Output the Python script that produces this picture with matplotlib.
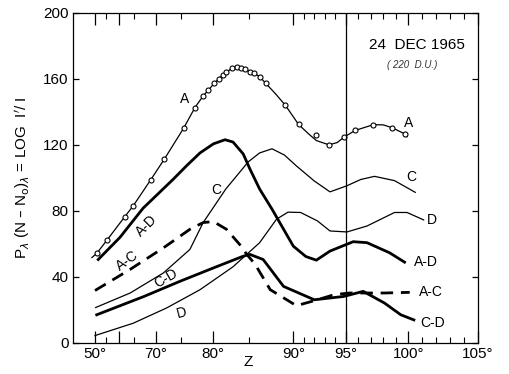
import numpy as np
import matplotlib
matplotlib.use("Agg")
import matplotlib.pyplot as plt
from matplotlib.ticker import FixedLocator, FixedFormatter

plt.rcParams['font.family'] = ['Liberation Sans', 'DejaVu Sans']

# ---------------- data (Z in degrees, value in log units) ----------------
A_line_z = [48.6, 50.8, 55.5, 61.8, 64.5, 68.8, 71.7, 75.4, 77.2, 78.5, 79.3, 80.2, 80.8, 81.4,
            81.9, 82.6, 83.3, 83.9, 84.5, 85.1, 85.6, 86.2, 86.9, 88.0, 89.1, 90.5, 91.5, 92.2,
            93.4, 94.2, 94.8, 95.75, 97.2, 98.0, 98.7, 99.7, 99.9]
A_line_v = [51.8, 54.3, 62.4, 76.4, 82.9, 99.0, 111.6, 130.1, 142.7, 149.8, 153.2, 157.3, 159.9, 162.4,
            164.0, 166.5, 167.5, 166.9, 166.0, 164.5, 163.4, 161.4, 157.3, 151.0, 144.1, 132.5, 126.5, 122.7,
            120.1, 121.5, 124.6, 128.8, 132.3, 132.2, 130.5, 126.8, 125.0]
A_mark_z = [50.8, 55.5, 61.8, 64.5, 68.8, 71.7, 75.4, 77.2, 78.5, 79.3, 80.2, 80.8, 81.4, 81.9,
            82.6, 83.3, 83.9, 84.5, 85.1, 85.6, 86.2, 86.9, 89.1, 90.5, 92.2, 93.4, 94.8, 95.75,
            97.2, 98.7, 99.7]
A_mark_v = [54.3, 62.4, 76.4, 82.9, 99.0, 111.6, 130.1, 142.7, 149.8, 153.2, 157.3, 159.9, 162.4, 164.0,
            166.5, 167.5, 166.9, 166.0, 164.5, 163.4, 161.4, 157.3, 144.1, 132.5, 125.8, 120.1, 124.6, 128.8,
            132.3, 130.5, 126.8]

C_z = [50.3, 63.6, 71.5, 76.4, 78.5, 81.8, 84.9, 86.2, 87.6, 89.0, 90.3, 92.0, 93.5, 95.1,
       96.2, 97.3, 98.9, 100.5]
C_v = [21.5, 30.3, 42.5, 56.7, 73.0, 93.3, 109.8, 115.2, 117.7, 113.9, 107.3, 98.2, 91.6, 95.3,
       99.1, 101.0, 98.4, 91.3]

D_z = [50.0, 64.6, 72.1, 78.0, 82.8, 86.2, 88.1, 89.4, 90.7, 92.3, 93.5, 95.1, 96.7, 98.9,
       99.9, 101.1]
D_v = [4.5, 12.0, 21.2, 32.3, 46.2, 60.8, 75.0, 79.3, 79.1, 74.0, 67.9, 67.3, 70.9, 79.1,
       79.1, 74.6]

AD_z = [51.5, 60.3, 67.0, 73.5, 75.9, 78.0, 80.1, 81.7, 82.8, 84.2, 85.1, 86.2, 87.6, 90.0,
        91.2, 92.2, 93.5, 95.6, 96.7, 98.5, 99.7]
AD_v = [50.6, 64.0, 81.7, 99.4, 107.5, 115.2, 120.7, 123.2, 121.8, 114.6, 105.5, 93.3, 81.1, 58.7,
        52.4, 50.2, 55.7, 61.4, 60.8, 54.7, 49.0]

AC_z = [50.0, 63.5, 71.5, 76.4, 78.5, 80.1, 81.9, 83.7, 84.7, 85.7, 87.4, 90.3, 92.3, 93.9,
        95.3, 98.1, 100.1]
AC_v = [31.8, 44.5, 57.7, 68.9, 73.0, 73.6, 68.9, 59.8, 53.7, 47.6, 32.3, 22.6, 26.2, 29.3,
        30.3, 30.3, 30.7]

CD_z = [50.8, 67.2, 74.8, 80.1, 84.2, 85.1, 86.6, 88.9, 92.0, 94.8, 96.4, 98.1, 99.4, 100.4]
CD_v = [17.1, 28.2, 37.4, 45.5, 52.6, 53.7, 50.6, 34.3, 26.2, 28.2, 31.3, 24.2, 17.1, 14.0]

major_ticks = [50, 60, 70, 80, 90, 95, 100, 105]
major_labels = ['50°', '', '70°', '80°', '90°', '95°', '100°', '105°']
minor_ticks = [55, 65, 75, 85, 91, 92, 93, 94, 96, 97, 98, 99, 101, 102, 103, 104]
y_ticks = [0, 40, 80, 120, 160, 200]

# ---------------- non-linear Z axis scale ----------------
Z_NODES = [40, 50, 55, 60, 65, 70, 75, 80, 85, 90, 95, 100, 105]
U_NODES = [73, 95, 105.7, 119, 134.5, 156, 181, 212.7, 249, 293.3, 345.7, 408.3, 478]

def fwd(z):
    return np.interp(np.asarray(z, dtype=float), Z_NODES, U_NODES)

def inv(u):
    return np.interp(np.asarray(u, dtype=float), U_NODES, Z_NODES)

W, H = 510, 374
fig = plt.figure(figsize=(W / 100, H / 100), dpi=100)
ax = fig.add_axes([73 / W, 1 - 343 / H, (478 - 73) / W, (343 - 13) / H])
ax.set_xscale('function', functions=(fwd, inv))
ax.set_xlim(40, 105)
ax.set_ylim(0, 200)

thin = 0.9
thick = 2.0
ax.plot(A_line_z, A_line_v, color='black', lw=thin)
ax.plot(A_mark_z, A_mark_v, ls='none', marker='o', ms=3.6, mfc='white', mec='black', mew=0.8)
ax.plot(C_z, C_v, color='black', lw=thin)
ax.plot(D_z, D_v, color='black', lw=thin)
ax.plot(AD_z, AD_v, color='black', lw=thick)
ax.plot(CD_z, CD_v, color='black', lw=thick)
ax.plot(AC_z, AC_v, color='black', lw=thick, ls=(0, (4.5, 2.8)))
ax.axvline(95, color='black', lw=0.9)

ax.xaxis.set_major_locator(FixedLocator(major_ticks))
ax.xaxis.set_major_formatter(FixedFormatter(major_labels))
ax.xaxis.set_minor_locator(FixedLocator(minor_ticks))
ax.xaxis.set_minor_formatter(FixedFormatter([''] * len(minor_ticks)))
ax.yaxis.set_major_locator(FixedLocator(y_ticks))
ax.yaxis.set_minor_locator(FixedLocator([]))

ax.tick_params(axis='x', which='major', direction='in', length=8.5, width=0.9,
               top=True, bottom=True, labelsize=11, pad=3)
ax.tick_params(axis='x', which='minor', direction='in', length=4, width=0.8,
               top=True, bottom=True)
ax.tick_params(axis='y', which='major', direction='in', length=4, width=0.9,
               left=True, right=True, labelsize=11, pad=3)
for s in ax.spines.values():
    s.set_linewidth(0.9)

def ftext(px, py, s, **kw):
    fig.text(px / W, 1 - py / H, s, ha='center', va='center', **kw)

fs = 10
ftext(185, 99, 'A', fontsize=fs)
ftext(409, 123, 'A', fontsize=fs)
ftext(216, 190, 'C', fontsize=fs)
ftext(411, 177, 'C', fontsize=fs)
ftext(432, 220, 'D', fontsize=fs)
ftext(426, 262, 'A-D', fontsize=fs)
ftext(431, 292, 'A-C', fontsize=fs)
ftext(433, 323, 'C-D', fontsize=fs)
ftext(147, 226, 'A-D', fontsize=fs, rotation=45)
ftext(127, 261, 'A-C', fontsize=fs, rotation=36)
ftext(166, 278, 'C-D', fontsize=fs, rotation=30)
ftext(182, 313, 'D', fontsize=fs, rotation=15)

ftext(417, 45, '24  DEC 1965', fontsize=11)
ftext(412, 65, '( 220  D.U.)', fontsize=7, style='italic', color='#333333')
ftext(248, 362, 'Z', fontsize=11)
ftext(22, 178, r'P$_\lambda$ (N – N$_\mathrm{o}$)$_\lambda$ = LOG  I$^\prime$/ I',
      fontsize=11, rotation=90)

fig.savefig('out.png', dpi=100)
